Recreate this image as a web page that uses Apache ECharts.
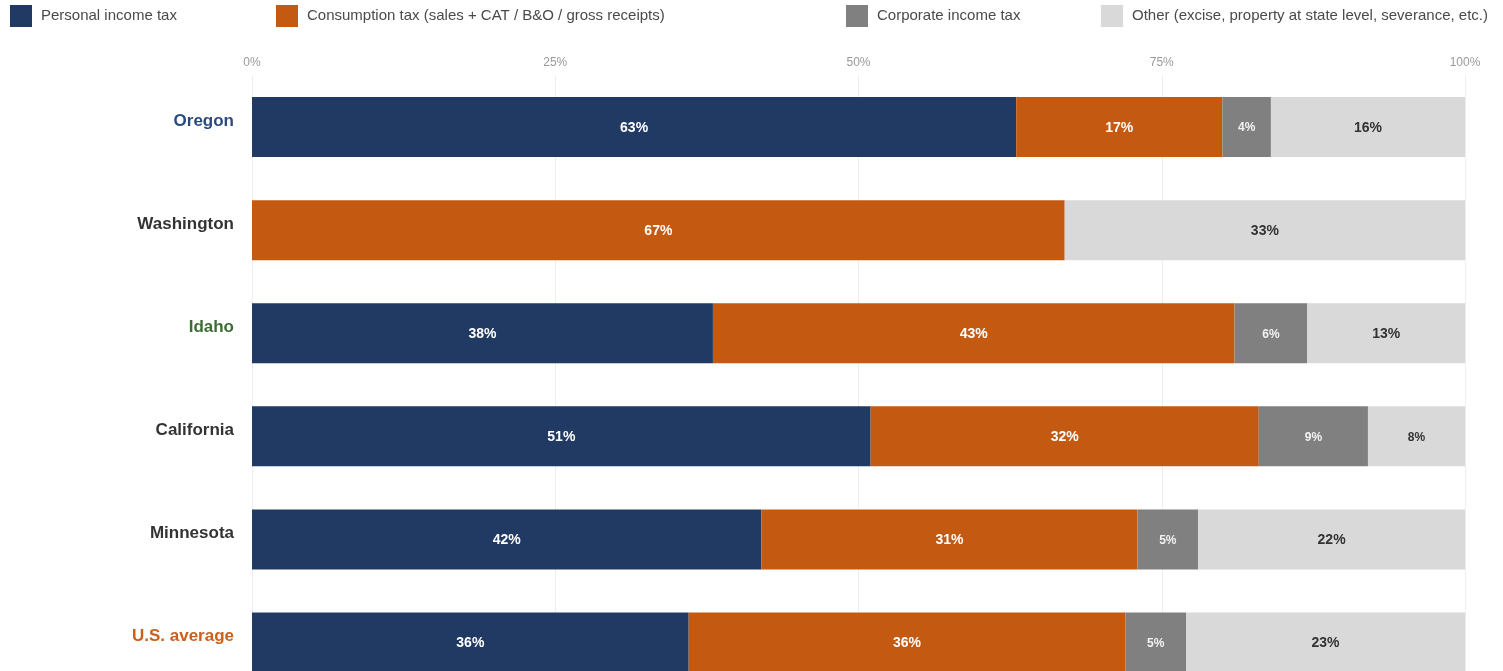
<!DOCTYPE html>
<html>
<head>
<meta charset="utf-8">
<style>
  html, body { margin: 0; padding: 0; background: #fff; overflow: hidden; height: 671px; }
  #chart { width: 1503px; height: 694px; }
</style>
<script src="https://cdn.jsdelivr.net/npm/echarts@6/dist/echarts.min.js"></script>
</head>
<body>
<div id="chart"></div>
<script>
// Share of state tax revenue by source (percent)
const states = ['Oregon', 'Washington', 'Idaho', 'California', 'Minnesota', 'U.S. average'];
const seriesNames = [
  'Personal income tax',
  'Consumption tax (sales + CAT / B&O / gross receipts)',
  'Corporate income tax',
  'Other (excise, property at state level, severance, etc.)'
];
const personalIncome = [63, 0, 38, 51, 42, 36];
const consumption   = [17, 67, 43, 32, 31, 36];
const corporate     = [4, 0, 6, 9, 5, 5];
const other         = [16, 33, 13, 8, 22, 23];
const tickLabels    = ['0%', '25%', '50%', '75%', '100%'];

const colors = ['#213a64', '#c45a12', '#808080', '#d9d9d9'];
const labelColors = ['#ffffff', '#ffffff', '#f2f2f2', '#333333'];
const stateStyles = {
  'Oregon': 'navy',
  'Idaho': 'green',
  'U.S. average': 'orange'
};
const fontFamily = '"Liberation Sans", Arial, sans-serif';

function buildSeries(name, values, idx) {
  return {
    name: name,
    type: 'bar',
    stack: 'total',
    barWidth: 60,
    itemStyle: { color: colors[idx] },
    data: values.map(v => ({
      value: v,
      label: {
        show: v > 0,
        fontSize: v < 10 ? 12 : 14
      }
    })),
    label: {
      show: true,
      position: 'inside',
      formatter: p => p.value + '%',
      color: labelColors[idx],
      fontWeight: 'bold',
      fontFamily: fontFamily,
      offset: [0, 1]
    },
    emphasis: { disabled: true }
  };
}

const legendLefts = [5, 271, 841, 1096];

const labelRich = (color) => ({
  color: color, fontSize: 17, fontWeight: 'bold', fontFamily: fontFamily, padding: [0, 0, 12, 0]
});

const chart = echarts.init(document.getElementById('chart'), null, { renderer: 'canvas' });
chart.setOption({
  animation: false,
  backgroundColor: '#ffffff',
  legend: seriesNames.map((n, i) => ({
    data: [n],
    left: legendLefts[i],
    top: 0,
    icon: 'rect',
    itemWidth: 22,
    itemHeight: 22,
    itemGap: 0,
    selectedMode: false,
    textStyle: { fontSize: 15, color: '#4a4a4a', fontFamily: fontFamily, padding: [0, 0, 0, 4] }
  })),
  grid: { left: 252, right: 38, top: 75.5, bottom: 0, containLabel: false },
  xAxis: {
    type: 'value',
    position: 'top',
    min: 0,
    max: 100,
    interval: 25,
    axisLine: { show: false },
    axisTick: { show: false },
    axisLabel: {
      margin: 7,
      fontSize: 12,
      color: '#999',
      fontFamily: fontFamily,
      formatter: v => tickLabels[Math.round(v / 25)]
    },
    splitLine: { show: true, lineStyle: { color: '#eeeeee', width: 1 } }
  },
  yAxis: {
    type: 'category',
    inverse: true,
    data: states,
    axisLine: { show: false },
    axisTick: { show: false },
    axisLabel: {
      margin: 18,
      formatter: v => '{' + (stateStyles[v] || 'dark') + '|' + v + '}',
      rich: {
        dark: labelRich('#333333'),
        navy: labelRich('#2b4a7e'),
        green: labelRich('#3b6e33'),
        orange: labelRich('#c9601c')
      }
    }
  },
  series: [
    buildSeries(seriesNames[0], personalIncome, 0),
    buildSeries(seriesNames[1], consumption, 1),
    buildSeries(seriesNames[2], corporate, 2),
    buildSeries(seriesNames[3], other, 3)
  ]
});
</script>
</body>
</html>
